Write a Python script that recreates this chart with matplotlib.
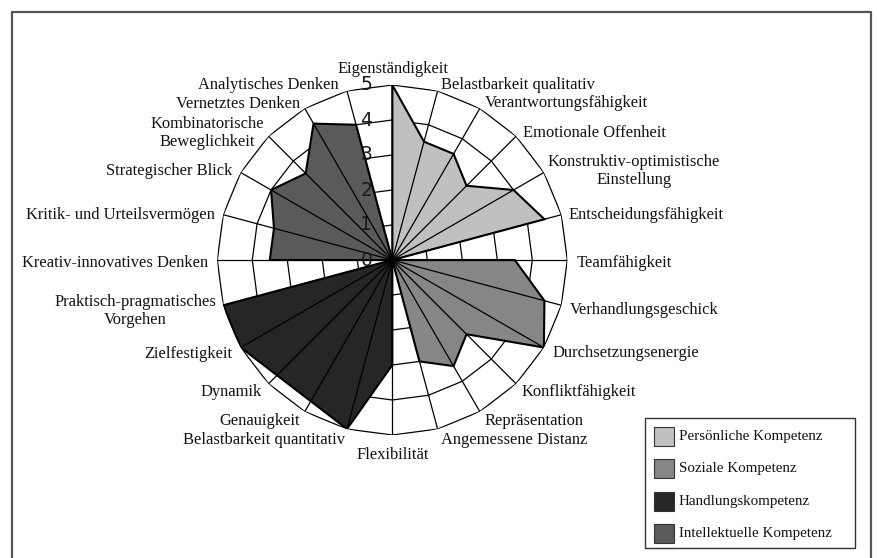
import numpy as np
import matplotlib
matplotlib.use("Agg")
import matplotlib.pyplot as plt
from matplotlib.patches import Rectangle
from matplotlib.lines import Line2D
from matplotlib.transforms import offset_copy

# ---------------- data ----------------
categories = [
    "Eigenständigkeit", "Belastbarkeit qualitativ", "Verantwortungsfähigkeit",
    "Emotionale Offenheit", "Konstruktiv-optimistische\nEinstellung",
    "Entscheidungsfähigkeit", "Teamfähigkeit", "Verhandlungsgeschick",
    "Durchsetzungsenergie", "Konfliktfähigkeit", "Repräsentation",
    "Angemessene Distanz", "Flexibilität", "Belastbarkeit quantitativ",
    "Genauigkeit", "Dynamik", "Zielfestigkeit",
    "Praktisch-pragmatisches\nVorgehen", "Kreativ-innovatives Denken",
    "Kritik- und Urteilsvermögen", "Strategischer Blick",
    "Kombinatorische\nBeweglichkeit", "Vernetztes Denken", "Analytisches Denken",
]
nan = np.nan
persoenliche = [5, 3.5, 3.5, 3, 4, 4.5, 0, 0, 0, 0, 0, 0,
                0, 0, 0, 0, 0, 0, 0, 0, 0, 0, 0, 0]
soziale = [0, 0, 0, 0, 0, 0, 3.5, 4.5, 5, 3, 3.5, 3,
           0, 0, 0, 0, 0, 0, 0, 0, 0, 0, 0, 0]
handlungs = [0, 0, 0, 0, 0, 0, 0, 0, 0, 0, 0, 0,
             3, 5, nan, nan, 5, 5, 0, 0, 0, 0, 0, 0]
intellektuelle = [0, 0, 0, 0, 0, 0, 0, 0, 0, 0, 0, 0,
                  0, 0, 0, 0, 0, 0, 3.5, 3.5, 4, 3.5, 4.5, 4]
series_names = ["Persönliche Kompetenz", "Soziale Kompetenz",
                "Handlungskompetenz", "Intellektuelle Kompetenz"]
ring_values = [1, 2, 3, 4, 5]
tick_labels = ["0", "1", "2", "3", "4", "5"]

# ---------------- style / layout ----------------
colors = ["#c0c0c0", "#868686", "#262626", "#5a5a5a"]
W, H = 878, 558
SERIF = ["Liberation Serif", "DejaVu Serif"]

# label positions in pixels (x, y from top, alignment)
label_pos = [
    (393, 69, "center"), (441, 85, "left"), (485, 103, "left"),
    (523, 133, "left"), (634, 171, "center"), (569, 215, "left"),
    (577, 263, "left"), (570, 310, "left"), (553, 353, "left"),
    (522, 392, "left"), (485, 421, "left"), (441, 440, "left"),
    (393, 455, "center"), (345, 440, "right"), (300, 421, "right"),
    (262, 392, "right"), (232, 354, "right"), (135, 311, "center"),
    (208, 263, "right"), (215, 215, "right"), (232, 171, "right"),
    (207, 133, "center"), (300, 104, "right"), (339, 85, "right"),
]

fig = plt.figure(figsize=(W / 100, H / 100), dpi=100)
fig.patch.set_facecolor("white")

cx, cy, R = 392.3, 260.0, 175.0
ax = fig.add_axes([(cx - R) / W, (H - cy - R) / H, 2 * R / W, 2 * R / H],
                  projection="polar")
ax.set_theta_zero_location("N")
ax.set_theta_direction(-1)
ax.set_ylim(0, 5)
ax.grid(False)
ax.set_xticks([])
ax.set_yticks([])
ax.spines["polar"].set_visible(False)
ax.patch.set_alpha(0)

n = len(categories)
theta = np.arange(n) * 2 * np.pi / n
theta_closed = np.append(theta, theta[0])

# rings (polygonal)
for r in ring_values:
    ax.plot(theta_closed, [r] * (n + 1), color="black", lw=0.9, zorder=1)

# filled series
for vals, col in zip([persoenliche, soziale, handlungs, intellektuelle], colors):
    v = np.array(vals, dtype=float)
    m = ~np.isnan(v)
    ax.fill(theta[m], v[m], facecolor=col, edgecolor="black", lw=1.5,
            zorder=2, closed=True)

# spokes
for t in theta:
    ax.plot([t, t], [0, 5], color="black", lw=0.9, zorder=3)

# radial tick labels
trans = offset_copy(ax.transData, fig=fig, x=-26, y=0, units="dots")
for i, lab in enumerate(tick_labels):
    ax.text(0, i, lab, transform=trans, ha="center", va="center",
            fontsize=13.5, family="DejaVu Sans", color="#1a1a1a", zorder=6,
            clip_on=False)

# category labels
for lab, (x, y, ha) in zip(categories, label_pos):
    fig.text(x / W, 1 - y / H, lab, ha=ha, va="center", multialignment="center",
             fontsize=11.9, family=SERIF, color="#111111", linespacing=1.1)

# legend (manual box)
fig.add_artist(Rectangle((645 / W, 1 - 548.3 / H), 210 / W, 130 / H,
                         transform=fig.transFigure, facecolor="white",
                         edgecolor="#333333", lw=1.0))
leg_y = [436.5, 468.8, 501, 533.3]
for name, col, y in zip(series_names, colors, leg_y):
    fig.add_artist(Rectangle((654 / W, 1 - (y + 9.5) / H), 20 / W, 19 / H,
                             transform=fig.transFigure, facecolor=col,
                             edgecolor="#333333", lw=0.8))
    fig.text(679 / W, 1 - y / H, name, ha="left", va="center",
             fontsize=10.8, family=SERIF, color="#111111")

# outer frame (left, top, right)
fx = [11.5 / W, 11.5 / W, 871.5 / W, 871.5 / W]
fy = [0, 1 - 11.5 / H, 1 - 11.5 / H, 0]
fig.add_artist(Line2D(fx, fy, transform=fig.transFigure, color="#555555",
                      lw=1.6))

fig.savefig("out.png", dpi=100)
